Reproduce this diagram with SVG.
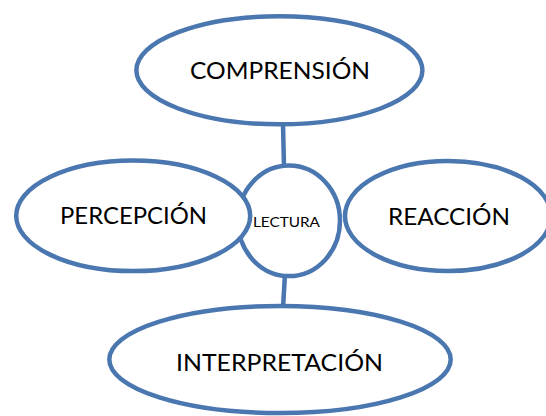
<svg xmlns="http://www.w3.org/2000/svg" width="546" height="416" viewBox="0 0 546 416">
<style>
.shape{fill:#ffffff;stroke:#4a77b0;stroke-width:4.5}
.conn{stroke:#4a77b0;stroke-width:4.5;fill:none}
.lbl{font-family:Lato,"Open Sans","Liberation Sans",sans-serif;font-size:23px;fill:#000000;text-anchor:middle}
.small{font-size:14px}
</style>
<rect width="546" height="416" fill="#ffffff"/>
<g id="connectors">
<line class="conn" x1="283" y1="124" x2="284" y2="167"/>
<line class="conn" x1="285" y1="274" x2="283" y2="308"/>
</g>
<g id="lectura">
<ellipse class="shape" cx="289" cy="220.8" rx="51" ry="55.3"/>
<text class="lbl small" x="286.5" y="227" textLength="67" lengthAdjust="spacingAndGlyphs">LECTURA</text>
</g>
<g id="comprension">
<ellipse class="shape" cx="279.4" cy="70.3" rx="143" ry="54"/>
<text class="lbl" x="280" y="79.3" textLength="180" lengthAdjust="spacingAndGlyphs">COMPRENSIÓN</text>
</g>
<g id="percepcion">
<ellipse class="shape" cx="133.2" cy="215.8" rx="117" ry="55.3"/>
<text class="lbl" x="133.5" y="223.5" textLength="147" lengthAdjust="spacingAndGlyphs">PERCEPCIÓN</text>
</g>
<g id="reaccion">
<ellipse class="shape" cx="448" cy="216" rx="103" ry="55"/>
<text class="lbl" x="449" y="224.5" textLength="122" lengthAdjust="spacingAndGlyphs">REACCIÓN</text>
</g>
<g id="interpretacion">
<ellipse class="shape" cx="280" cy="359.5" rx="170.7" ry="53.5"/>
<text class="lbl" x="279.5" y="370.7" textLength="207" lengthAdjust="spacingAndGlyphs">INTERPRETACIÓN</text>
</g>
</svg>
